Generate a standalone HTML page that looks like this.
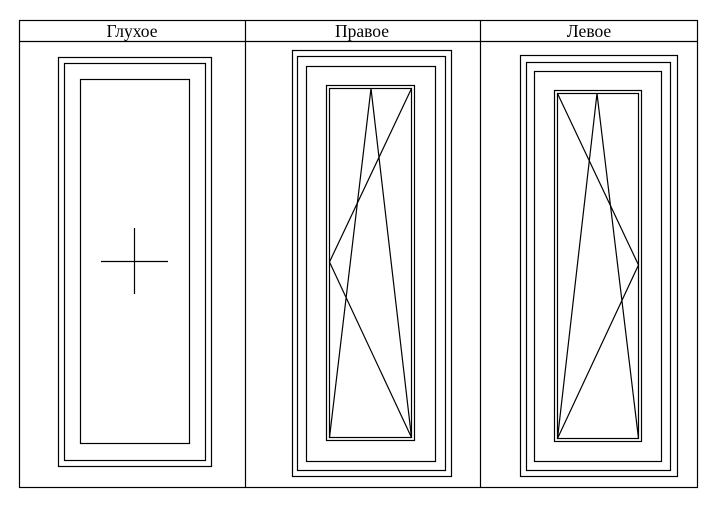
<!DOCTYPE html>
<html><head><meta charset="utf-8"><style>
body{margin:0;background:#fff;width:717px;height:507px;overflow:hidden}
svg{display:block}
text{font-family:"Liberation Serif",serif;font-size:17.5px}
</style></head><body>
<svg width="717" height="507" viewBox="0 0 717 507">
<g fill="none" stroke="#000" stroke-width="1.2">
<rect x="19.5" y="20.5" width="678" height="467"/>
<line x1="19" y1="41.5" x2="698" y2="41.5"/>
<line x1="245.5" y1="20" x2="245.5" y2="488"/>
<line x1="480.5" y1="20" x2="480.5" y2="488"/>
<rect x="58.5" y="57.5" width="153" height="409"/>
<rect x="64.5" y="63.5" width="141" height="397"/>
<rect x="80.5" y="79.5" width="109" height="364"/>
<line x1="101" y1="261.5" x2="168" y2="261.5"/>
<line x1="134.5" y1="228" x2="134.5" y2="294"/>
<rect x="292.5" y="50.5" width="159" height="426"/>
<rect x="297.5" y="56.5" width="148" height="414"/>
<rect x="306.5" y="66.5" width="129" height="395"/>
<rect x="326.5" y="85.5" width="88" height="355"/>
<rect x="329.5" y="88.5" width="82" height="349"/>
<polyline points="329.5,437.5 371,88.5 411.5,437.5"/>
<polyline points="411.5,88.5 329.5,262 411.5,437.5"/>
<rect x="520.5" y="55.5" width="157" height="421"/>
<rect x="526.5" y="62.5" width="144" height="408"/>
<rect x="534.5" y="71.5" width="127" height="390"/>
<rect x="554.5" y="90.5" width="87" height="351"/>
<rect x="557.5" y="93.5" width="81" height="345"/>
<polyline points="557.5,438.5 597,93.5 638.5,438.5"/>
<polyline points="557.5,93.5 638.5,265 557.5,438.5"/>
</g>
<text x="132" y="37" text-anchor="middle">Глухое</text>
<text x="362" y="37" text-anchor="middle">Правое</text>
<text x="589" y="37" text-anchor="middle">Левое</text>
</svg>
</body></html>
